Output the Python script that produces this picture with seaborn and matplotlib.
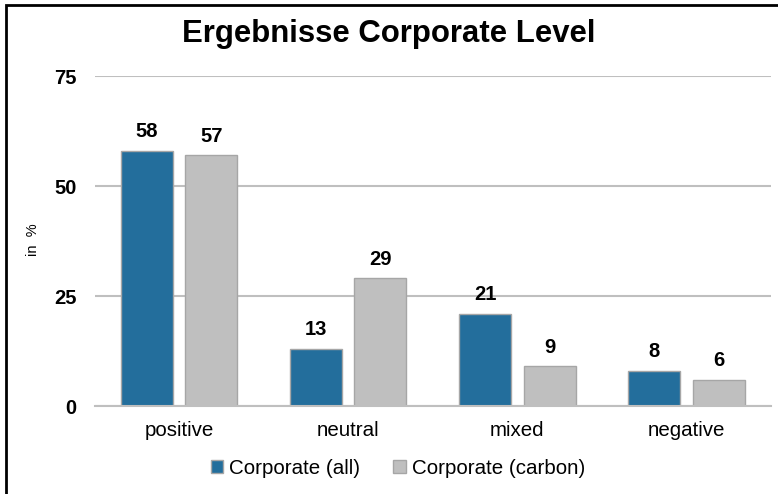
import pandas as pd
import matplotlib.pyplot as plt
import seaborn as sns
from matplotlib.patches import Rectangle

categories = ['positive', 'neutral', 'mixed', 'negative']
corporate_all = [58, 13, 21, 8]
corporate_carbon = [57, 29, 9, 6]
series_names = ['Corporate (all)', 'Corporate (carbon)']
y_ticks = [0, 25, 50, 75]

df = pd.DataFrame({
    'Kategorie': categories * 2,
    'Wert': corporate_all + corporate_carbon,
    'Serie': [series_names[0]] * 4 + [series_names[1]] * 4,
})

sns.set_theme(style='white')
plt.rcParams['font.family'] = ['Liberation Sans', 'DejaVu Sans']
plt.rcParams['text.color'] = 'black'
plt.rcParams['xtick.color'] = 'black'
plt.rcParams['ytick.color'] = 'black'
plt.rcParams['axes.labelcolor'] = 'black'

fig = plt.figure(figsize=(7.78, 4.94), dpi=100)
ax = fig.add_axes([0.1215, 0.178, 0.991 - 0.1215, 0.846 - 0.178])

sns.barplot(data=df, x='Kategorie', y='Wert', hue='Serie', order=categories,
            hue_order=series_names, palette=['#236E9C', '#BFBFBF'],
            width=0.763, gap=0.194, edgecolor='#A6A6A6', linewidth=1,
            saturation=1, ax=ax)

for c in ax.containers:
    ax.bar_label(c, padding=7, fontsize=14.5, fontweight='bold', color='black')

ax.set_ylim(0, 75)
ax.set_xlim(-0.5, 3.5)
ax.set_yticks(y_ticks)
ax.set_yticklabels([str(t) for t in y_ticks], fontsize=14.5, fontweight='bold')
ax.tick_params(axis='y', length=0, pad=13)
ax.tick_params(axis='x', length=0, pad=11, labelsize=14.8)
ax.grid(axis='y', color='#BFBFBF', linewidth=1.5)
ax.set_axisbelow(True)
for s in ['left', 'right', 'top']:
    ax.spines[s].set_visible(False)
ax.spines['bottom'].set_color('#BFBFBF')
ax.spines['bottom'].set_linewidth(1.5)
ax.set_xlabel('')
ax.set_ylabel('')
fig.text(33 / 778, 1 - 240 / 494, 'in  %', rotation=90, ha='center', va='center',
         fontsize=10.5)

sns.move_legend(ax, 'center', bbox_to_anchor=(398 / 778, 1 - 468 / 494),
                bbox_transform=fig.transFigure, ncol=2, frameon=False, title=None,
                fontsize=14.8, handlelength=0.6, handleheight=0.6,
                handletextpad=0.3, columnspacing=1.6)

fig.text(389 / 778, 1 - 34 / 494, 'Ergebnisse Corporate Level', ha='center', va='center',
         fontsize=22.4, fontweight='bold')

# frame of the slide (only top and left edge visible)
fig.patches.append(Rectangle((6 / 778, -0.1), 1.2, 1 - 5 / 494 + 0.1,
                             transform=fig.transFigure, fill=False,
                             edgecolor='black', linewidth=2))

fig.savefig('out.png', dpi=100)
